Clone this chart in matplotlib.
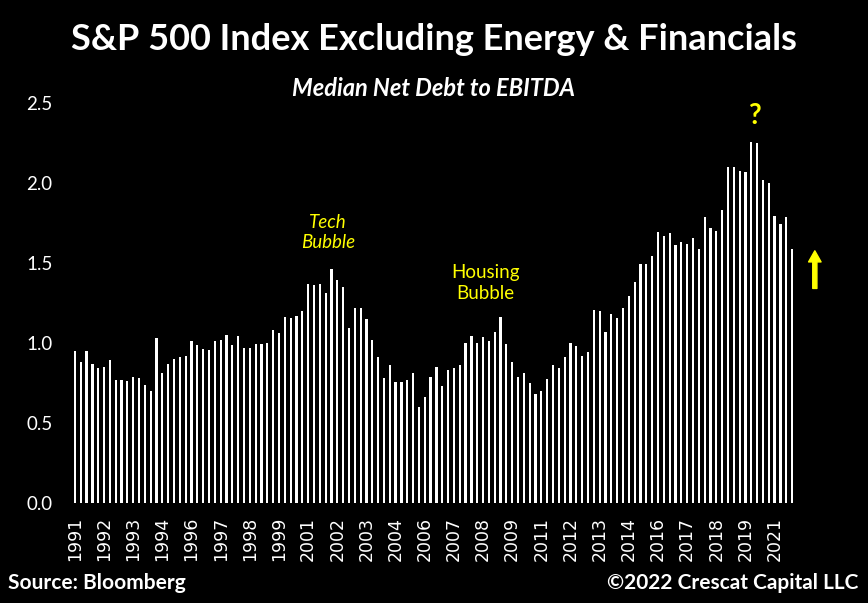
import numpy as np
import matplotlib
matplotlib.use("Agg")
import matplotlib.pyplot as plt

# median net debt / EBITDA, quarterly 1991Q1 .. 2021Q4
debt_ebitda = [
    0.95, 0.88, 0.95, 0.87, 0.84, 0.85, 0.89, 0.77, 0.77, 0.76,
    0.79, 0.78, 0.74, 0.70, 1.03, 0.81, 0.87, 0.90, 0.91, 0.92,
    1.01, 0.985, 0.96, 0.955, 1.01, 1.02, 1.05, 0.985, 1.04, 0.97,
    0.97, 0.99, 0.99, 1.00, 1.08, 1.06, 1.16, 1.155, 1.17, 1.20,
    1.365, 1.36, 1.365, 1.31, 1.46, 1.39, 1.35, 1.09, 1.22, 1.22,
    1.15, 1.02, 0.91, 0.78, 0.86, 0.755, 0.755, 0.77, 0.81, 0.60,
    0.66, 0.79, 0.85, 0.73, 0.83, 0.84, 0.86, 1.00, 1.04, 1.00,
    1.035, 1.01, 1.07, 1.16, 0.99, 0.88, 0.79, 0.81, 0.75, 0.68,
    0.70, 0.775, 0.86, 0.84, 0.91, 1.00, 0.98, 0.92, 0.94, 1.205,
    1.20, 1.07, 1.18, 1.155, 1.22, 1.29, 1.38, 1.495, 1.495, 1.54,
    1.69, 1.67, 1.685, 1.61, 1.63, 1.62, 1.655, 1.585, 1.785, 1.72,
    1.70, 1.83, 2.10, 2.10, 2.075, 2.065, 2.255, 2.25, 2.02, 2.00,
    1.79, 1.74, 1.785, 1.585,
]

year_ticks = [0, 5, 10, 15, 20, 25, 30, 35, 40, 45, 50, 55, 60,
              65, 70, 75, 80, 85, 90, 95, 100, 105, 110, 115, 120]
year_labels = ['1991', '1992', '1993', '1994', '1996', '1997', '1998',
               '1999', '2001', '2002', '2003', '2004', '2006', '2007',
               '2008', '2009', '2011', '2012', '2013', '2014', '2016',
               '2017', '2018', '2019', '2021']

yellow = '#ffff00'
font = 'Lato'

fig = plt.figure(figsize=(8.68, 6.03), dpi=100, facecolor='black')
ax = fig.add_axes([72/868, 100/603, 723/868, 400.3/603])
ax.set_facecolor('black')

x = np.arange(len(debt_ebitda))
ax.bar(x, debt_ebitda, width=0.38, color='white', edgecolor='none')

ax.set_xlim(-0.5, len(debt_ebitda) - 0.5)
ax.set_ylim(0, 2.5)
ax.set_yticks([0, 0.5, 1.0, 1.5, 2.0, 2.5])
ax.set_yticklabels(['0.0', '0.5', '1.0', '1.5', '2.0', '2.5'],
                   fontfamily=font, fontsize=13.5, color='white')
ax.set_xticks(year_ticks)
ax.set_xticklabels(year_labels, rotation=90, fontsize=12.5, color='white')
ax.tick_params(axis='y', length=0, pad=14)
ax.tick_params(axis='x', length=0, pad=10)
for s in ax.spines.values():
    s.set_visible(False)

ax.text(43.4, 1.69, 'Tech\nBubble', color=yellow, fontfamily=font,
        style='italic', fontsize=13.5, ha='center', va='center', linespacing=1.25)
ax.text(70.4, 1.375, 'Housing\nBubble', color=yellow, fontfamily=font,
        fontsize=13.5, ha='center', va='center', linespacing=1.25)
ax.text(116.5, 2.42, '?', color=yellow, fontfamily=font, fontweight='bold',
        fontsize=20, ha='center', va='center')
ax.annotate('', xy=(126.9, 1.575), xytext=(126.9, 1.34),
            arrowprops=dict(arrowstyle='simple,head_width=0.9,head_length=0.8,tail_width=0.3',
                            color=yellow, shrinkA=0, shrinkB=0),
            annotation_clip=False)

fig.text(0.5, 1 - 40/603, 'S&P 500 Index Excluding Energy & Financials',
         color='white', fontfamily=font, fontweight='bold', fontsize=26,
         ha='center', va='center')
fig.text(0.5, 1 - 88/603, 'Median Net Debt to EBITDA', color='white',
         fontfamily=font, fontweight='bold', style='italic', fontsize=17,
         ha='center', va='center')
fig.text(8/868, 1 - 583/603, 'Source: Bloomberg', color='white',
         fontfamily=font, fontweight='bold', fontsize=15, ha='left', va='center')
fig.text(858/868, 1 - 583/603, '\u00a92022 Crescat Capital LLC', color='white',
         fontfamily=font, fontweight='bold', fontsize=15, ha='right', va='center')

fig.savefig('out.png', dpi=100, facecolor='black')
